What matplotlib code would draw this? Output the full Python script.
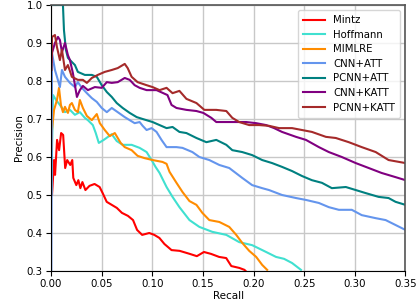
import matplotlib
matplotlib.use("Agg")
import matplotlib.pyplot as plt

# Precision / recall values
mintz_r = [0.001, 0.003, 0.004, 0.006, 0.008, 0.010, 0.012, 0.014, 0.016, 0.019, 0.021, 0.022,
           0.025, 0.027, 0.029, 0.031, 0.034, 0.038, 0.043, 0.048, 0.051, 0.055, 0.060, 0.065,
           0.070, 0.076, 0.081, 0.085, 0.090, 0.097, 0.102, 0.107, 0.112, 0.119, 0.127, 0.137,
           0.144, 0.151, 0.158, 0.166, 0.173, 0.178, 0.186, 0.191, 0.194]
mintz_p = [0.50, 0.592, 0.553, 0.645, 0.618, 0.663, 0.658, 0.571, 0.592, 0.579, 0.592, 0.545,
           0.526, 0.539, 0.518, 0.534, 0.513, 0.524, 0.529, 0.521, 0.505, 0.482, 0.474, 0.466,
           0.453, 0.445, 0.434, 0.408, 0.395, 0.400, 0.395, 0.387, 0.371, 0.355, 0.353, 0.345,
           0.339, 0.350, 0.345, 0.337, 0.334, 0.313, 0.308, 0.303, 0.295]

hoff_r = [0.0005, 0.001, 0.002, 0.005, 0.0088, 0.0138, 0.0187, 0.0236, 0.0285, 0.0334, 0.0364,
          0.0413, 0.0442, 0.0472, 0.0521, 0.060, 0.0649, 0.0708, 0.0796, 0.0875, 0.0944, 0.0993,
          0.1032, 0.1072, 0.1141, 0.120, 0.1268, 0.1367, 0.1465, 0.1593, 0.1731, 0.1858, 0.1986,
          0.2124, 0.2222, 0.2301, 0.238, 0.2468]
hoff_p = [0.50, 0.618, 0.763, 0.75, 0.737, 0.718, 0.724, 0.711, 0.718, 0.703, 0.697,
          0.684, 0.663, 0.637, 0.645, 0.66, 0.642, 0.632, 0.632, 0.624, 0.613, 0.592,
          0.574, 0.558, 0.521, 0.495, 0.468, 0.434, 0.416, 0.403, 0.395, 0.376, 0.368,
          0.35, 0.337, 0.332, 0.321, 0.303]

mimlre_r = [0.0005, 0.001, 0.003, 0.0059, 0.0079, 0.0098, 0.0118, 0.0138, 0.0167, 0.0187, 0.0206,
            0.0236, 0.0265, 0.0285, 0.0315, 0.0354, 0.0403, 0.0452, 0.0482, 0.0531, 0.058, 0.063,
            0.0688, 0.0728, 0.0796, 0.0855, 0.0924, 0.1003, 0.1101, 0.1141, 0.117, 0.1239,
            0.1298, 0.1367, 0.1436, 0.1494, 0.1563, 0.1662, 0.176, 0.1829, 0.1888, 0.1957,
            0.2026, 0.2085, 0.2134]
mimlre_p = [0.62, 0.671, 0.724, 0.75, 0.782, 0.737, 0.718, 0.732, 0.716, 0.737, 0.742,
            0.724, 0.718, 0.75, 0.729, 0.708, 0.697, 0.713, 0.689, 0.671, 0.655, 0.663,
            0.637, 0.626, 0.618, 0.603, 0.597, 0.592, 0.587, 0.582, 0.561, 0.532,
            0.508, 0.484, 0.474, 0.453, 0.434, 0.429, 0.416, 0.395, 0.374, 0.353,
            0.337, 0.316, 0.303]

cnn_att_r = [0.0003, 0.001, 0.0039, 0.0059, 0.0088, 0.0108, 0.0138, 0.0187, 0.0236, 0.0265,
             0.0305, 0.0354, 0.0403, 0.0452, 0.0501, 0.0551, 0.06, 0.0659, 0.0728, 0.0777,
             0.0826, 0.0875, 0.0905, 0.0944, 0.0993, 0.1042, 0.1091, 0.1141, 0.1239, 0.1298,
             0.1396, 0.1465, 0.1563, 0.1662, 0.176, 0.1888, 0.1986, 0.2085, 0.2153, 0.2281,
             0.2419, 0.2517, 0.2645, 0.2743, 0.2842, 0.297, 0.3068, 0.3206, 0.3304, 0.3402, 0.35]
cnn_att_p = [0.30, 0.874, 0.829, 0.811, 0.784, 0.829, 0.811, 0.795, 0.784, 0.797,
             0.782, 0.768, 0.755, 0.745, 0.729, 0.718, 0.729, 0.718, 0.705, 0.697,
             0.689, 0.692, 0.682, 0.671, 0.676, 0.666, 0.645, 0.626, 0.626, 0.624,
             0.613, 0.60, 0.592, 0.579, 0.571, 0.545, 0.526, 0.518, 0.513, 0.50,
             0.492, 0.487, 0.479, 0.468, 0.461, 0.461, 0.447, 0.439, 0.434, 0.421, 0.408]

pcnn_att_r = [0.0, 0.0118, 0.0128, 0.0147, 0.0167, 0.0206, 0.0236, 0.0265, 0.0334, 0.0403,
              0.0452, 0.0501, 0.0551, 0.06, 0.0649, 0.0708, 0.0777, 0.0846, 0.0905, 0.1003,
              0.1072, 0.1141, 0.12, 0.1268, 0.1337, 0.1436, 0.1534, 0.1632, 0.1731, 0.179,
              0.1888, 0.1986, 0.2085, 0.2183, 0.2281, 0.238, 0.2478, 0.2576, 0.2675, 0.2773,
              0.2911, 0.3009, 0.3107, 0.3235, 0.3333, 0.3402, 0.35]
pcnn_att_p = [1.0, 1.0, 0.934, 0.882, 0.861, 0.85, 0.842, 0.824, 0.816, 0.816,
              0.811, 0.789, 0.771, 0.758, 0.742, 0.729, 0.716, 0.705, 0.70, 0.692,
              0.684, 0.676, 0.679, 0.666, 0.663, 0.65, 0.639, 0.645, 0.632, 0.618,
              0.613, 0.605, 0.592, 0.584, 0.574, 0.563, 0.55, 0.539, 0.532, 0.518,
              0.521, 0.513, 0.505, 0.495, 0.492, 0.482, 0.474]

cnn_katt_r = [0.0005, 0.001, 0.0039, 0.0069, 0.0088, 0.0108, 0.0138, 0.0167, 0.0187, 0.0216,
              0.0256, 0.0285, 0.0315, 0.0364, 0.0433, 0.0501, 0.0551, 0.06, 0.0659, 0.0728,
              0.0777, 0.0826, 0.0875, 0.0944, 0.1042, 0.115, 0.119, 0.1239, 0.1337, 0.1436,
              0.1504, 0.1583, 0.1632, 0.176, 0.1927, 0.2026, 0.2124, 0.2203, 0.2281, 0.2419,
              0.2517, 0.2645, 0.2743, 0.2871, 0.3009, 0.3137, 0.3264, 0.3402, 0.35]
cnn_katt_p = [0.85, 0.874, 0.90, 0.916, 0.908, 0.876, 0.90, 0.868, 0.855, 0.821,
              0.758, 0.776, 0.787, 0.776, 0.784, 0.782, 0.797, 0.795, 0.797, 0.808,
              0.803, 0.789, 0.782, 0.776, 0.776, 0.763, 0.737, 0.729, 0.724, 0.721,
              0.716, 0.703, 0.692, 0.692, 0.692, 0.689, 0.684, 0.676, 0.666, 0.653,
              0.645, 0.626, 0.613, 0.60, 0.584, 0.571, 0.558, 0.547, 0.539]

pcnn_katt_r = [0.0005, 0.001, 0.0039, 0.0059, 0.0088, 0.0108, 0.0138, 0.0167, 0.0206, 0.0265,
               0.0315, 0.0354, 0.0403, 0.0462, 0.0531, 0.06, 0.0659, 0.0728, 0.0757, 0.0796,
               0.0855, 0.0944, 0.1003, 0.1072, 0.1141, 0.12, 0.1268, 0.1337, 0.1436, 0.1514,
               0.1632, 0.1731, 0.179, 0.1858, 0.1957, 0.2055, 0.2153, 0.2252, 0.238, 0.2478,
               0.2576, 0.2714, 0.2812, 0.294, 0.3068, 0.3206, 0.3333, 0.35]
pcnn_katt_p = [0.829, 0.916, 0.921, 0.889, 0.855, 0.882, 0.829, 0.842, 0.811, 0.803,
               0.803, 0.795, 0.808, 0.816, 0.824, 0.829, 0.834, 0.845, 0.834, 0.811,
               0.797, 0.789, 0.784, 0.776, 0.782, 0.768, 0.774, 0.753, 0.742, 0.724,
               0.724, 0.721, 0.703, 0.692, 0.684, 0.684, 0.682, 0.676, 0.676, 0.671,
               0.666, 0.653, 0.65, 0.639, 0.626, 0.613, 0.592, 0.584]

names = ["Mintz", "Hoffmann", "MIMLRE", "CNN+ATT", "PCNN+ATT", "CNN+KATT", "PCNN+KATT"]
colors = ["red", "turquoise", "darkorange", "cornflowerblue", "teal", "purple", "brown"]
curves = [(mintz_r, mintz_p), (hoff_r, hoff_p), (mimlre_r, mimlre_p), (cnn_att_r, cnn_att_p),
          (pcnn_att_r, pcnn_att_p), (cnn_katt_r, cnn_katt_p), (pcnn_katt_r, pcnn_katt_p)]

fig = plt.figure(figsize=(4.17, 3.07), dpi=100)
ax = fig.add_axes([0.1223, 0.1173, 0.8501, 0.8664])

for (r, p), name, c in zip(curves, names, colors):
    ax.plot(r, p, color=c, lw=1.5, label=name)

ax.set_xlim(0.0, 0.35)
ax.set_ylim(0.3, 1.0)
ax.set_xticks([0.0, 0.05, 0.10, 0.15, 0.20, 0.25, 0.30, 0.35])
ax.set_xticklabels(["0.00", "0.05", "0.10", "0.15", "0.20", "0.25", "0.30", "0.35"])
ax.set_yticks([0.3, 0.4, 0.5, 0.6, 0.7, 0.8, 0.9, 1.0])
ax.tick_params(labelsize=7.4, length=3.5, pad=2.5)
ax.grid(True, color="#c8c8c8", lw=1.0)
ax.set_axisbelow(True)
ax.set_xlabel("Recall", fontsize=7.5, labelpad=1)
ax.set_ylabel("Precision", fontsize=7.5, labelpad=2)
for s in ["top", "right"]:
    ax.spines[s].set_color("#555555")
    ax.spines[s].set_linewidth(1.2)

ax.legend(loc="upper right", fontsize=7.3, handlelength=2.2, labelspacing=0.45,
          borderpad=0.5, framealpha=0.8)

fig.savefig("out.png", dpi=100)
